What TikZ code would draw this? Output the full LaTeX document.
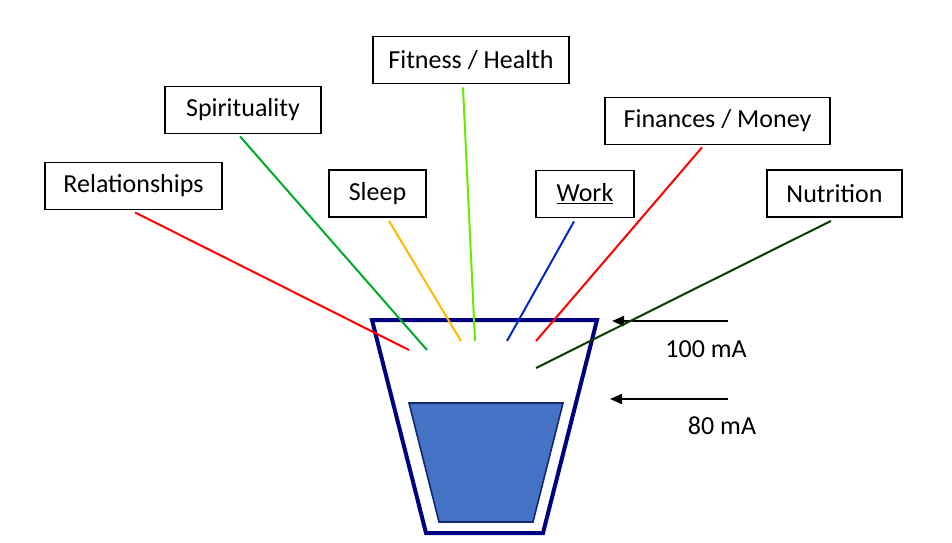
\documentclass[tikz,border=0pt]{standalone}
\usepackage{fontspec}
\setmainfont{Carlito}
\usetikzlibrary{arrows.meta}
\definecolor{CupNavy}{RGB}{0,0,128}
\definecolor{WaterBlue}{RGB}{68,114,196}
\definecolor{WaterEdge}{RGB}{20,40,110}
\definecolor{RayRed}{RGB}{255,0,0}
\definecolor{RayGreen}{RGB}{0,170,40}
\definecolor{RayOrange}{RGB}{255,185,0}
\definecolor{RayLime}{RGB}{100,235,0}
\definecolor{RayBlue}{RGB}{0,40,190}
\definecolor{RayDark}{RGB}{10,60,0}

\begin{document}
\begin{tikzpicture}[
        x=1pt, y=-1pt,
        tag/.style={draw=black, line width=1.8pt, inner sep=0pt, minimum height=47pt, font=\fontsize{26}{30}\selectfont},
        ray/.style={line width=2pt},
        current/.style={-{Triangle[length=12pt,width=10pt]}, line width=2pt}
      ]
        \useasboundingbox (0,0) rectangle (952,542);
        % labels
        \node[tag, minimum width=177pt] (rel) at (133.5,186) {Relationships};
        \node[tag, minimum width=156pt] (spirit) at (243,110) {Spirituality};
        \node[tag, minimum width=196pt] (fit) at (471,60) {Fitness / Health};
        \node[tag, minimum width=97pt] (sleep) at (377.5,193.5) {Sleep};
        \node[tag, minimum width=98pt] (work) at (585,194) {\underline{Work}};
        \node[tag, minimum width=225pt] (money) at (717.5,121) {Finances / Money};
        \node[tag, minimum width=135pt] (food) at (834.5,193.5) {Nutrition};
        % cup and water
        \draw[CupNavy, line width=4pt, line join=miter] (372,320) -- (597,320) -- (543,533) -- (426,533) -- cycle;
        \draw[fill=WaterBlue, draw=WaterEdge, line width=1.6pt] (409,403) -- (563,403) -- (533,522) -- (439,522) -- cycle;
        % currents
        \coordinate (in100) at (728,321);
        \coordinate (top100) at (612,321);
        \coordinate (in80) at (728,399);
        \coordinate (top80) at (610,399);
        \draw[current] (in100) -- (top100);
        \draw[current] (in80) -- (top80);
        \node[font=\fontsize{26}{30}\selectfont] (l100) at (706,349) {100 mA};
        \node[font=\fontsize{26}{30}\selectfont] (l80) at (722,426) {80 mA};
        % rays into the cup
        \coordinate (relEnd) at (409,350);
        \coordinate (spiritEnd) at (427,350);
        \coordinate (sleepEnd) at (461,341);
        \coordinate (fitEnd) at (475,341);
        \coordinate (workEnd) at (507,341);
        \coordinate (moneyEnd) at (536,341);
        \coordinate (foodEnd) at (536,368);
        \draw[ray, RayRed] ([xshift=1.5pt, yshift=-2pt]rel.south) -- (relEnd);
        \draw[ray, RayGreen] ([xshift=-3pt, yshift=-2pt]spirit.south) -- (spiritEnd);
        \draw[ray, RayOrange] ([xshift=11.5pt, yshift=-3pt]sleep.south) -- (sleepEnd);
        \draw[ray, RayLime] ([xshift=-8pt, yshift=-3pt]fit.south) -- (fitEnd);
        \draw[ray, RayBlue] ([xshift=-11pt, yshift=-3pt]work.south) -- (workEnd);
        \draw[ray, RayRed] ([xshift=-15.5pt, yshift=-2pt]money.south) -- (moneyEnd);
        \draw[ray, RayDark] ([xshift=-3.5pt, yshift=-3pt]food.south) -- (foodEnd);
      \end{tikzpicture}
\end{document}
